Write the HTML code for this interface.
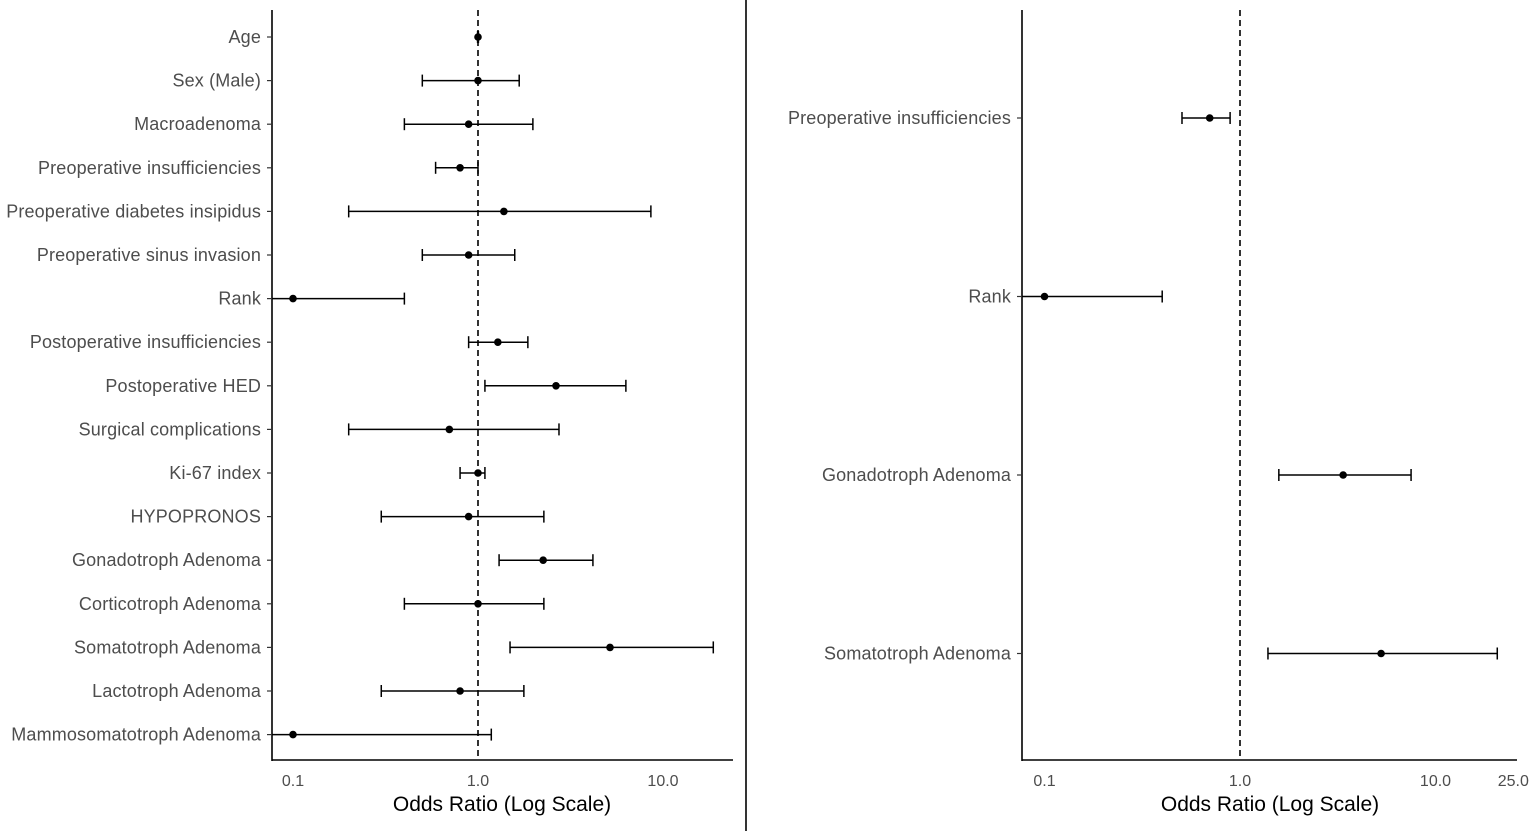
<!DOCTYPE html>
<html><head><meta charset="utf-8"><style>
html,body{margin:0;padding:0;background:#fff;width:1535px;height:831px;overflow:hidden}
svg text{font-family:"Liberation Sans",sans-serif}
</style></head><body>
<svg id="chart" width="1535" height="831" viewBox="0 0 1535 831" xmlns="http://www.w3.org/2000/svg"></svg>
<script>
const leftLabels=["Age","Sex (Male)","Macroadenoma","Preoperative insufficiencies","Preoperative diabetes insipidus","Preoperative sinus invasion","Rank","Postoperative insufficiencies","Postoperative HED","Surgical complications","Ki-67 index","HYPOPRONOS","Gonadotroph Adenoma","Corticotroph Adenoma","Somatotroph Adenoma","Lactotroph Adenoma","Mammosomatotroph Adenoma"];
const leftOR=[1.0,1.0,0.89,0.80,1.38,0.89,0.10,1.28,2.64,0.70,1.0,0.89,2.25,1.0,5.17,0.80,0.10];
const leftLow=[0.995,0.50,0.40,0.59,0.20,0.50,0.05,0.89,1.09,0.20,0.80,0.30,1.30,0.40,1.49,0.30,0.05];
const leftHigh=[1.005,1.67,1.98,1.0,8.6,1.58,0.40,1.86,6.3,2.74,1.09,2.27,4.18,2.27,18.7,1.77,1.18];
const leftTicks=[0.1,1.0,10.0];
const leftTickLabels=["0.1","1.0","10.0"];
const rightLabels=["Preoperative insufficiencies","Rank","Gonadotroph Adenoma","Somatotroph Adenoma"];
const rightOR=[0.70,0.10,3.37,5.27];
const rightLow=[0.505,0.05,1.58,1.39];
const rightHigh=[0.89,0.40,7.5,20.7];
const rightTicks=[0.1,1.0,10.0,25.0];
const rightTickLabels=["0.1","1.0","10.0","25.0"];

const svg=document.getElementById('chart');
const NS="http://www.w3.org/2000/svg";
function mk(tag,attrs,parent){const e=document.createElementNS(NS,tag);for(const k in attrs)e.setAttribute(k,attrs[k]);(parent||svg).appendChild(e);return e;}

function panel(opts,labels,ors,lows,highs,ticks,tickLabels,name){
  const g=mk('g',{});
  
  
  const x=v=>opts.x1+opts.decade*Math.log10(v);
  const clampX=v=>Math.max(opts.axisX,Math.min(opts.axisEnd,x(v)));
  const y=i=>opts.y0+i*opts.step;
  const ya=mk('line',{x1:opts.axisX,y1:10,x2:opts.axisX,y2:opts.axisY+1,stroke:'#000','stroke-width':1.6},g);
  
  
  const xa=mk('line',{x1:opts.axisX,y1:opts.axisY,x2:opts.axisEnd,y2:opts.axisY,stroke:'#000','stroke-width':1.6},g);
  
  
  const rl=mk('line',{x1:x(1),y1:10,x2:x(1),y2:opts.axisY,stroke:'#000','stroke-width':1.6,'stroke-dasharray':'6,4'},g);
  
  
  ticks.forEach((t,i)=>{
    const tl=mk('text',{x:x(t),y:opts.axisY+26,'text-anchor':'middle','font-size':16,fill:'#4d4d4d'},g);
    tl.textContent=tickLabels[i];
    
    
  });
  const at=mk('text',{x:opts.titleX,y:811,'text-anchor':'middle','font-size':21,fill:'#000'},g);
  at.textContent='Odds Ratio (Log Scale)';
  
  
  labels.forEach((lab,i)=>{
    const yy=y(i);
    const tk=mk('line',{x1:opts.axisX-5,y1:yy,x2:opts.axisX,y2:yy,stroke:'#333','stroke-width':1.2},g);
    
    
    const t=mk('text',{x:opts.axisX-11,y:yy+6,'text-anchor':'end','font-size':18,'letter-spacing':0.15,fill:'#4d4d4d'},g);
    t.textContent=lab;
    
    
    const lx=clampX(lows[i]),hx=clampX(highs[i]);
    const ci=mk('line',{x1:lx,y1:yy,x2:hx,y2:yy,stroke:'#000','stroke-width':1.5},g);
    
    
    [[lows[i],lx],[highs[i],hx]].forEach(([v,px])=>{
      if(x(v)>=opts.axisX){
        const c=mk('line',{x1:px,y1:yy-6,x2:px,y2:yy+6,stroke:'#000','stroke-width':1.5},g);
        
        
      }
    });
    const p=mk('circle',{cx:x(ors[i]),cy:yy,r:3.8,fill:'#000'},g);
    
    
  });
}
panel({x1:478,decade:185,axisX:272,axisEnd:733,axisY:760,y0:37,step:43.6,titleX:502},leftLabels,leftOR,leftLow,leftHigh,leftTicks,leftTickLabels,'left-forest-plot');
panel({x1:1240,decade:195.5,axisX:1022,axisEnd:1517,axisY:760,y0:118,step:178.5,titleX:1270},rightLabels,rightOR,rightLow,rightHigh,rightTicks,rightTickLabels,'right-forest-plot');
const d=mk('line',{x1:746,y1:0,x2:746,y2:831,stroke:'#000','stroke-width':1.6});


</script>
</body></html>
